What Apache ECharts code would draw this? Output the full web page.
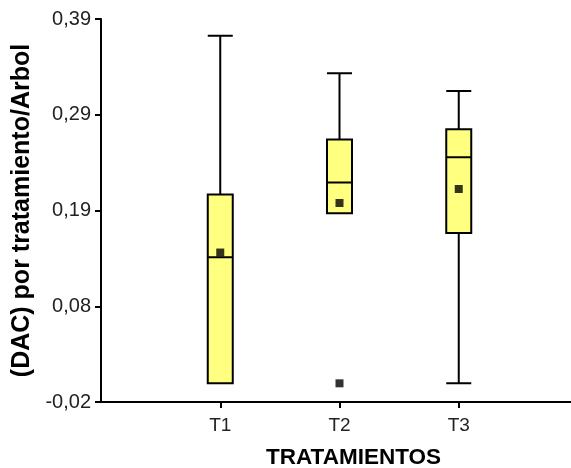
<!DOCTYPE html>
<html>
<head>
<meta charset="utf-8">
<script src="https://cdn.jsdelivr.net/npm/echarts@6/dist/echarts.min.js"></script>
<style>html,body{margin:0;padding:0;background:#fff;}#c{width:571px;height:468px;}</style>
</head>
<body>
<div id="c"></div>
<script>
// Categories (with empty padding slots at both ends of the axis)
const categories = ['', 'T1', 'T2', 'T3', ''];
// Box data: [categoryIndex, min, Q1, median, Q3, max]
const boxT1 = [1, 0.000, 0.000, 0.135, 0.202, 0.372];
const boxT2 = [2, 0.182, 0.182, 0.215, 0.261, 0.332];
const boxT3 = [3, 0.000, 0.161, 0.242, 0.272, 0.313];
// Means
const means = [[1, 0.140], [2, 0.193], [3, 0.208]];
// Outliers
const outliers = [[2, 0.000]];
// Y tick labels
const yTickLabels = ['-0,02', '0,08', '0,19', '0,29', '0,39'];
const yMin = -0.02, yMax = 0.39, yStep = 0.1025;

const chart = echarts.init(document.getElementById('c'));
const font = 'Liberation Sans, Arial, sans-serif';
chart.setOption({
  animation: false,
  backgroundColor: '#fff',
  grid: { left: 101, top: 19, bottom: 66, right: -7, containLabel: false, outerBoundsMode: 'none' },
  xAxis: {
    type: 'category',
    data: categories,
    boundaryGap: false,
    name: 'TRATAMIENTOS',
    nameLocation: 'middle',
    nameGap: 44,
    nameTextStyle: { fontFamily: font, fontWeight: 'bold', fontSize: 22.5, color: '#000', verticalAlign: 'top', padding: [0, 0, 0, 28] },
    axisLine: { onZero: false, lineStyle: { color: '#000', width: 2 } },
    axisTick: { length: 6, lineStyle: { color: '#000', width: 2 }, interval: function (i) { return i >= 1 && i <= 3; } },
    axisLabel: { fontFamily: font, fontSize: 19, color: '#222', margin: 14, interval: 0 },
    splitLine: { show: false }
  },
  yAxis: {
    type: 'value',
    min: yMin, max: yMax, interval: yStep,
    name: '(DAC) por tratamiento/Arbol',
    nameLocation: 'middle',
    nameGap: 64,
    nameTextStyle: { fontFamily: font, fontWeight: 'bold', fontSize: 25, color: '#000' },
    axisLine: { show: true, onZero: false, lineStyle: { color: '#000', width: 2 } },
    axisTick: { show: true, length: 6, lineStyle: { color: '#000', width: 2 } },
    axisLabel: {
      fontFamily: font, fontSize: 20, color: '#222', margin: 10,
      formatter: function (v) { return yTickLabels[Math.round((v - yMin) / yStep)] || ''; }
    },
    splitLine: { show: false }
  },
  series: [
    {
      type: 'boxplot',
      data: [boxT1, boxT2, boxT3],
      encode: { x: 0, y: [1, 2, 3, 4, 5] },
      boxWidth: [25, 25],
      itemStyle: { color: '#ffff80', borderColor: '#000', borderWidth: 2 }
    },
    {
      type: 'scatter',
      data: means,
      symbol: 'rect',
      symbolSize: 8,
      itemStyle: { color: '#000' },
      z: 5
    },
    {
      type: 'scatter',
      data: outliers,
      symbol: 'rect',
      symbolSize: 8,
      itemStyle: { color: '#000' },
      z: 5
    }
  ]
});
</script>
</body>
</html>
